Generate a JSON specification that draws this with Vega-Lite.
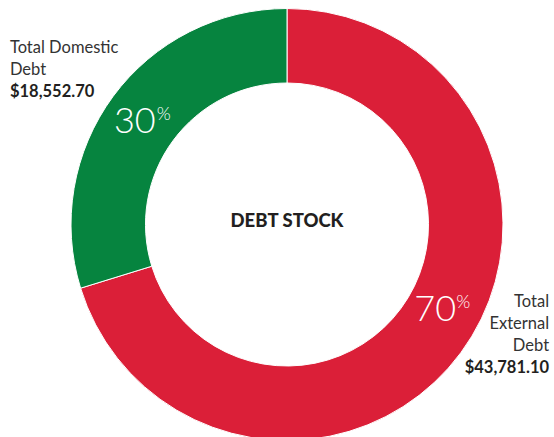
{
  "$schema": "https://vega.github.io/schema/vega-lite/v6.json",
  "width": 574,
  "height": 449,
  "autosize": {"type": "none"},
  "padding": 0,
  "background": "white",
  "config": {"view": {"stroke": null}, "text": {"font": "Lato", "color": "#231f20"}},
  "data": {
    "values": [
      {"category": "External", "name": "Total\nExternal\nDebt", "value": 43781.10, "amount": "$43,781.10", "pct": 70},
      {"category": "Domestic", "name": "Total Domestic\nDebt", "value": 18552.70, "amount": "$18,552.70", "pct": 30}
    ]
  },
  "encoding": {
    "theta": {"field": "value", "type": "quantitative", "stack": true},
    "order": {"field": "category", "sort": "descending"}
  },
  "layer": [
    {
      "mark": {"type": "arc", "radius": 216, "radius2": 141.5, "stroke": "white", "strokeWidth": 1},
      "encoding": {
        "color": {"field": "category", "type": "nominal", "scale": {"domain": ["External", "Domestic"], "range": ["#db1f38", "#06843f"]}, "legend": null}
      }
    },
    {
      "mark": {"type": "text", "radius": 178, "dx": -9, "dy": 3, "fontSize": 36, "fontWeight": 300, "color": "white", "baseline": "middle", "align": "center"},
      "encoding": {
        "text": {"field": "pct", "type": "quantitative"},
        "opacity": {"condition": {"test": "datum.category === 'Domestic'", "value": 1}, "value": 0}
      }
    },
    {
      "mark": {"type": "text", "radius": 178, "dx": 20, "dy": -4, "fontSize": 18, "fontWeight": 300, "color": "white", "baseline": "middle", "align": "center", "text": "%"},
      "encoding": {
        "opacity": {"condition": {"test": "datum.category === 'Domestic'", "value": 1}, "value": 0}
      }
    },
    {
      "mark": {"type": "text", "radius": 178, "dx": 5, "dy": -20, "fontSize": 36, "fontWeight": 300, "color": "white", "baseline": "middle", "align": "center"},
      "encoding": {
        "text": {"field": "pct", "type": "quantitative"},
        "opacity": {"condition": {"test": "datum.category === 'External'", "value": 1}, "value": 0}
      }
    },
    {
      "mark": {"type": "text", "radius": 178, "dx": 33, "dy": -27, "fontSize": 18, "fontWeight": 300, "color": "white", "baseline": "middle", "align": "center", "text": "%"},
      "encoding": {
        "opacity": {"condition": {"test": "datum.category === 'External'", "value": 1}, "value": 0}
      }
    },
    {
      "mark": {"type": "text", "radius": 230, "dx": -92, "dy": -35, "fontSize": 16.5, "lineBreak": "\n", "lineHeight": 22, "align": "left", "baseline": "alphabetic", "color": "#333333"},
      "encoding": {
        "text": {"field": "name"},
        "opacity": {"condition": {"test": "datum.category === 'Domestic'", "value": 1}, "value": 0}
      }
    },
    {
      "mark": {"type": "text", "radius": 230, "dx": -92, "dy": 9, "fontSize": 16.5, "fontWeight": "bold", "align": "left", "baseline": "alphabetic"},
      "encoding": {
        "text": {"field": "amount"},
        "opacity": {"condition": {"test": "datum.category === 'Domestic'", "value": 1}, "value": 0}
      }
    },
    {
      "mark": {"type": "text", "radius": 230, "dx": 77, "dy": -54, "fontSize": 16.5, "lineBreak": "\n", "lineHeight": 22, "align": "right", "baseline": "alphabetic", "color": "#333333"},
      "encoding": {
        "text": {"field": "name"},
        "opacity": {"condition": {"test": "datum.category === 'External'", "value": 1}, "value": 0}
      }
    },
    {
      "mark": {"type": "text", "radius": 230, "dx": 77, "dy": 12, "fontSize": 16.5, "fontWeight": "bold", "align": "right", "baseline": "alphabetic"},
      "encoding": {
        "text": {"field": "amount"},
        "opacity": {"condition": {"test": "datum.category === 'External'", "value": 1}, "value": 0}
      }
    },
    {
      "data": {"values": [{"t": "DEBT STOCK"}]},
      "mark": {"type": "text", "fontSize": 18.5, "fontWeight": 900, "baseline": "middle", "align": "center", "dy": -4},
      "encoding": {"text": {"field": "t"}, "theta": null, "order": null}
    }
  ]
}
